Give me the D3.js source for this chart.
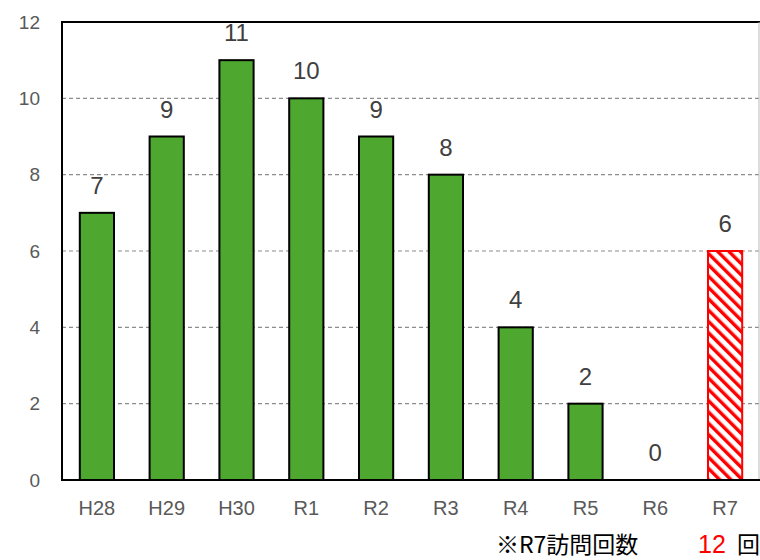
<!DOCTYPE html>
<html><head><meta charset="utf-8">
<script src="https://cdn.jsdelivr.net/npm/d3@7"></script>
<style>body{margin:0;background:#fff;}svg{display:block;}</style>
</head><body>
<svg id="c" width="760" height="560"></svg>
<script>
const categories = ["H28","H29","H30","R1","R2","R3","R4","R5","R6","R7"];
const values = [7,9,11,10,9,8,4,2,0,6];
const yTicks = [0,2,4,6,8,10,12];
const noteText = "※R7訪問回数";
const noteCount = "12";
const noteUnit = "回";

(function(){
const svg = d3.select("#c");
const font = "'Liberation Sans',Arial,'Noto Sans CJK JP',sans-serif";
const cjk = "'Noto Sans CJK JP','Noto Sans',sans-serif";
const mLeft = 62, mRight = 760, mTop = 22, mBottom = 480;
const x = d3.scaleBand().domain(categories).range([mLeft, mRight]).paddingInner(0.51).paddingOuter(0.255);
const y = d3.scaleLinear().domain([0,12]).range([mBottom, mTop]);

const defs = svg.append("defs");
const pat = defs.append("pattern").attr("id","hatch").attr("patternUnits","userSpaceOnUse")
  .attr("width",8).attr("height",8).attr("patternTransform","rotate(-45)");
pat.append("rect").attr("width",8).attr("height",8).attr("fill","#fff");
pat.append("rect").attr("x",0).attr("y",0).attr("width",3.4).attr("height",8).attr("fill","#ff0000");

// gridlines
svg.append("g").selectAll("line").data(yTicks.filter(d=>d>0 && d<12)).join("line")
  .attr("x1",mLeft).attr("x2",mRight).attr("y1",d=>y(d)).attr("y2",d=>y(d))
  .attr("stroke","#8c8c8c").attr("stroke-width",1.2).attr("stroke-dasharray","4,3");

// frame
svg.append("line").attr("x1",mLeft).attr("x2",mRight).attr("y1",y(12)).attr("y2",y(12)).attr("stroke","#000").attr("stroke-width",2);
svg.append("line").attr("x1",mRight-1).attr("x2",mRight-1).attr("y1",y(12)).attr("y2",mBottom).attr("stroke","#bbb").attr("stroke-width",1);

// bars
svg.append("g").selectAll("rect").data(categories).join("rect")
  .attr("x",d=>x(d)).attr("width",x.bandwidth())
  .attr("y",(d,i)=>y(values[i])).attr("height",(d,i)=>mBottom-y(values[i]))
  .attr("fill",d=>d==="R7"?"url(#hatch)":"#4ea72e")
  .attr("stroke",d=>d==="R7"?"#ff0000":"#000").attr("stroke-width",2)
  .style("display",(d,i)=>values[i]===0?"none":null);

// axes lines
svg.append("line").attr("x1",mLeft).attr("x2",mLeft).attr("y1",y(12)-1).attr("y2",mBottom+1).attr("stroke","#000").attr("stroke-width",2);
svg.append("line").attr("x1",mLeft).attr("x2",mRight).attr("y1",mBottom).attr("y2",mBottom).attr("stroke","#000").attr("stroke-width",2);

// y axis labels
const yAxis = d3.axisLeft(y).tickValues(yTicks).tickSize(0).tickPadding(22);
const gy = svg.append("g").attr("transform",`translate(${mLeft},0)`).call(yAxis);
gy.select(".domain").remove();
gy.selectAll("text").attr("fill","#595959").style("font-size","19px").style("font-family",font);

// x axis labels
const xAxis = d3.axisBottom(x).tickSize(0).tickPadding(21);
const gx = svg.append("g").attr("transform",`translate(0,${mBottom})`).call(xAxis);
gx.select(".domain").remove();
gx.selectAll("text").attr("fill","#595959").style("font-size","20px").style("font-family",font);

// value labels
svg.append("g").selectAll("text").data(categories).join("text")
  .attr("x",d=>x(d)+x.bandwidth()/2).attr("y",(d,i)=>y(values[i])-19)
  .attr("text-anchor","middle").attr("fill","#404040")
  .style("font-size","24px").style("font-family",font)
  .text((d,i)=>values[i]);

// footnote
const note = svg.append("text").attr("x",496).attr("y",553).style("font-size","23px").style("font-family",cjk).attr("fill","#000");
note.append("tspan").text(noteText);
note.append("tspan").attr("x",698).attr("fill","#ff0000").style("font-family",font).style("font-size","25px").text(noteCount);
note.append("tspan").attr("x",737).attr("fill","#000").text(noteUnit);
})();
</script>
</body></html>
